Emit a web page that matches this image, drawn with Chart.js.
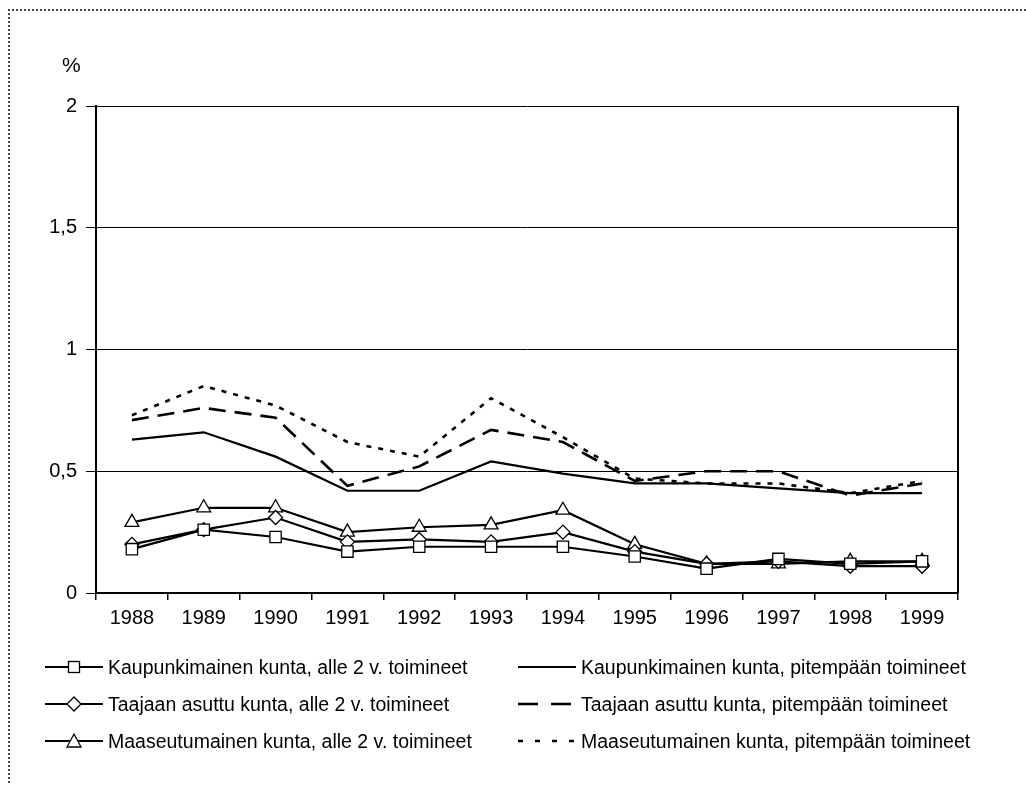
<!DOCTYPE html>
<html>
<head>
<meta charset="utf-8">
<script src="https://cdn.jsdelivr.net/npm/chart.js@4"></script>
<style>
  body { margin: 0; background: #fff; }
  #wrap { position: relative; width: 1026px; height: 785px; overflow: hidden; }
  #frame { position: absolute; left: 8px; top: 9px; width: 1100px; height: 900px;
           border-left: 2px dotted #444; border-top: 2px dotted #444; }
  #pct { position: absolute; left: 62px; top: 53px; font: 21px Arial, "Liberation Sans", sans-serif; }
  .lg { position: absolute; font: 19.5px Arial, "Liberation Sans", sans-serif; white-space: nowrap; line-height: 20px; }
  .lg svg { position: absolute; top: 0; }
</style>
</head>
<body>
<div id="wrap">
  <div id="frame"></div>
  <canvas id="chart" width="1026" height="785"></canvas>
  <div id="pct">%</div>
  <div id="legend"></div>
</div>
<script>
// years and values (%)
const years = ['1988','1989','1990','1991','1992','1993','1994','1995','1996','1997','1998','1999'];
const kaupAlle = [0.18, 0.26, 0.23, 0.17, 0.19, 0.19, 0.19, 0.15, 0.10, 0.14, 0.12, 0.13];
const taajAlle = [0.20, 0.26, 0.31, 0.21, 0.22, 0.21, 0.25, 0.17, 0.12, 0.13, 0.11, 0.11];
const maasAlle = [0.29, 0.35, 0.35, 0.25, 0.27, 0.28, 0.34, 0.20, 0.12, 0.12, 0.13, 0.13];
const kaupPit = [0.63, 0.66, 0.56, 0.42, 0.42, 0.54, 0.49, 0.45, 0.45, 0.43, 0.41, 0.41];
const taajPit = [0.71, 0.76, 0.72, 0.44, 0.52, 0.67, 0.62, 0.46, 0.50, 0.50, 0.40, 0.45];
const maasPit = [0.73, 0.85, 0.77, 0.62, 0.56, 0.80, 0.64, 0.47, 0.45, 0.45, 0.41, 0.46];
const yTicks = [0, 0.5, 1, 1.5, 2];

const labels = [
  'Kaupunkimainen kunta, alle 2 v. toimineet',
  'Taajaan asuttu kunta, alle 2 v. toimineet',
  'Maaseutumainen kunta, alle 2 v. toimineet',
  'Kaupunkimainen kunta, pitempään toimineet',
  'Taajaan asuttu kunta, pitempään toimineet',
  'Maaseutumainen kunta, pitempään toimineet'
];

function markerSet(label, data, style, r) {
  return {
    label: label, data: data,
    borderColor: '#000', borderWidth: 2.2,
    pointStyle: style, pointRadius: r, pointHoverRadius: r,
    pointBackgroundColor: '#fff', pointBorderColor: '#000', pointBorderWidth: 1.3,
    tension: 0
  };
}
function plainSet(label, data, dash, w) {
  return {
    label: label, data: data,
    borderColor: '#000', borderWidth: w, borderDash: dash,
    pointRadius: 0, pointHoverRadius: 0, tension: 0
  };
}

// right edge of the plot box
const frameBox = {
  id: 'frameBox',
  beforeDatasetsDraw(chart) {
    const a = chart.chartArea, c = chart.ctx;
    c.save();
    c.strokeStyle = '#000';
    c.lineWidth = 2;
    c.beginPath();
    c.moveTo(a.right, a.top);
    c.lineTo(a.right, a.bottom);
    c.stroke();
    c.restore();
  }
};

const ctx = document.getElementById('chart');
new Chart(ctx, {
  type: 'line',
  data: {
    labels: years,
    datasets: [
      plainSet(labels[3], kaupPit, [], 2.2),
      plainSet(labels[4], taajPit, [17, 9], 2.6),
      plainSet(labels[5], maasPit, [5, 7], 2.6),
      markerSet(labels[0], kaupAlle, 'rect', 8),
      markerSet(labels[1], taajAlle, 'rectRot', 7),
      markerSet(labels[2], maasAlle, 'triangle', 8)
    ]
  },
  options: {
    responsive: false,
    animation: false,
    events: [],
    layout: { padding: { left: 0, top: 106, right: 68, bottom: 150 } },
    plugins: { legend: { display: false }, tooltip: { enabled: false } },
    scales: {
      x: {
        offset: true,
        afterFit: (s) => { s.height = 42; },
        grid: { offset: true, drawOnChartArea: false, color: '#000', lineWidth: 1.5, tickLength: 7 },
        border: { color: '#000', width: 2 },
        ticks: { color: '#000', font: { family: 'Arial, "Liberation Sans"', size: 20 }, padding: 6, maxRotation: 0 }
      },
      y: {
        min: 0, max: 2,
        afterFit: (s) => { s.width = 96; },
        afterBuildTicks: (s) => { s.ticks = yTicks.map(v => ({ value: v })); },
        grid: { color: '#000', lineWidth: 1, tickLength: 10 },
        border: { color: '#000', width: 2 },
        ticks: {
          color: '#000', padding: 9,
          font: { family: 'Arial, "Liberation Sans"', size: 20 },
          callback: (v) => String(v).replace('.', ',')
        }
      }
    }
  },
  plugins: [frameBox]
});

// legend, two columns of three rows
const legendRows = [
  { x: 45, y: 667, w: 58, mark: 'rect' },
  { x: 45, y: 704, w: 58, mark: 'diamond' },
  { x: 45, y: 741, w: 58, mark: 'tri' },
  { x: 518, y: 667, w: 58, dash: '' },
  { x: 518, y: 704, w: 58, dash: '20 13' },
  { x: 518, y: 741, w: 58, dash: '5 12' }
];
const lg = document.getElementById('legend');
legendRows.forEach((r, i) => {
  let m = '';
  const cx = r.w / 2;
  if (r.mark === 'rect') m = `<rect x="${cx - 5.5}" y="4.5" width="11" height="11" fill="#fff" stroke="#000" stroke-width="1.3"/>`;
  if (r.mark === 'diamond') m = `<polygon points="${cx},3 ${cx + 7},10 ${cx},17 ${cx - 7},10" fill="#fff" stroke="#000" stroke-width="1.3"/>`;
  if (r.mark === 'tri') m = `<polygon points="${cx},3 ${cx + 7},16 ${cx - 7},16" fill="#fff" stroke="#000" stroke-width="1.3"/>`;
  const dash = r.dash ? `stroke-dasharray="${r.dash}"` : '';
  const svg = `<svg width="${r.w}" height="20" style="left:-${r.w + 5}px"><line x1="0" y1="10" x2="${r.w}" y2="10" stroke="#000" stroke-width="${r.dash ? 2.6 : 2.2}" ${dash}/>${m}</svg>`;
  const d = document.createElement('div');
  d.className = 'lg';
  d.style.left = (r.x + r.w + 5) + 'px';
  d.style.top = (r.y - 10) + 'px';
  d.innerHTML = svg + labels[i];
  lg.appendChild(d);
});
</script>
</body>
</html>
